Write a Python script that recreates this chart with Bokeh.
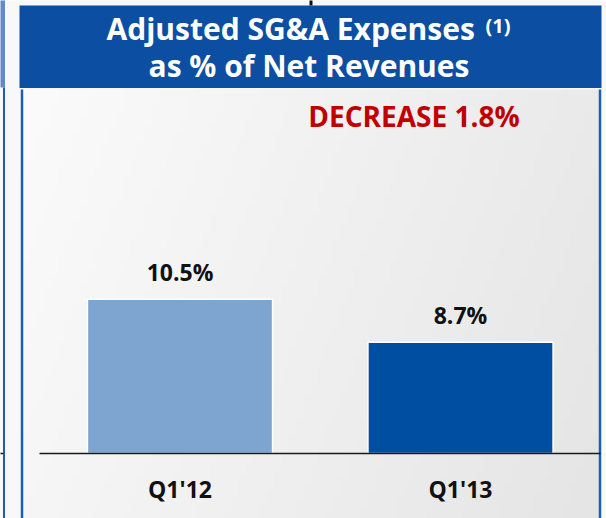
import numpy as np
from bokeh.plotting import figure
from bokeh.models import Range1d
from bokeh.core.properties import value
from bokeh.embed import file_html
from bokeh.resources import INLINE

# ---------------- data ----------------
categories = ["Q1'12", "Q1'13"]
values = [10.5, 8.7]
value_labels = ["10.5%", "8.7%"]
bar_colors = ["#7EA5D0", "#004EA2"]
title_line1 = "Adjusted SG&A Expenses"
title_sup = "(1)"
title_line2 = "as % of Net Revenues"
callout = "DECREASE 1.8%"

# ---------------- layout / scale setup ----------------
W, H = 606, 518          # figure size (figure sits at page origin)
OFF = 0
X0_PAGE, X_PX = 179.5, 280.5      # page x of first category, px per category
BASE_VAL, BASE_PAGE, Y_PX = 4.05, 453.0, 23.9   # value at baseline, page y of baseline, px per unit
LIFT = 0.4   # baseline correction (fraction of font size)

def dx(page_x):
    return (page_x - X0_PAGE) / X_PX

def dy(page_y):
    return BASE_VAL + (BASE_PAGE - page_y) / Y_PX

def ty(page_y, size):
    return dy(page_y - LIFT * size)

FONT = value("Open Sans")
BAND = "#0B4EA2"
EDGE = "#1F5DB5"

p = figure(width=W, height=H, output_backend="svg", toolbar_location=None,
           x_range=Range1d(dx(OFF), dx(OFF + W)), y_range=Range1d(dy(OFF + H), dy(OFF)),
           x_axis_type=None, y_axis_type=None, min_border=0,
           background_fill_color="#f8f8f8", border_fill_color="#f8f8f8", outline_line_color=None)
p.grid.visible = False

# panel gradient background
nx, ny = 80, 60
gx = np.linspace(0, 1, nx)[None, :]
gy = np.linspace(0, 1, ny)[:, None]   # 0 = bottom row
g = (251 - 17 * gx - 5 * (1 - gy)).clip(0, 255).astype(np.uint8)
img = np.empty((ny, nx), dtype=np.uint32)
v = img.view(dtype=np.uint8).reshape((ny, nx, 4))
v[:, :, 0] = g
v[:, :, 1] = g
v[:, :, 2] = g
v[:, :, 3] = 255
p.image_rgba(image=[img], x=dx(22), y=dy(520), dw=dx(599) - dx(22), dh=dy(89) - dy(520))

# neighbouring panel remnants at the left edge
p.quad(left=dx(-1), right=dx(4.5), top=dy(-1), bottom=dy(87), fill_color="#5E8CC8", line_color=None)
p.segment(x0=[dx(3.5)], y0=[dy(87)], x1=[dx(3.5)], y1=[dy(520)], line_color=EDGE, line_width=2)
p.segment(x0=[dx(-1)], y0=[BASE_VAL], x1=[dx(3)], y1=[BASE_VAL], line_color="#1a1a1a", line_width=1.5)
p.segment(x0=[dx(310.5)], y0=[dy(-1)], x1=[dx(310.5)], y1=[dy(5)], line_color="#111111", line_width=3)

# panel borders (left / right)
p.segment(x0=[dx(21.5), dx(599.5)], y0=[dy(89), dy(89)], x1=[dx(21.5), dx(599.5)], y1=[dy(520), dy(520)],
          line_color=EDGE, line_width=2.5)

# title band
p.quad(left=dx(19), right=dx(601), top=dy(5), bottom=dy(87.5), fill_color=BAND, line_color=None)
p.text(x=[dx(106)], y=[ty(39.5, 30)], text=[title_line1], text_color="white", text_font=FONT,
       text_font_style="bold", text_font_size="30px", text_align="left", text_baseline="alphabetic")
p.text(x=[dx(485)], y=[ty(33, 20)], text=[title_sup], text_color="white", text_font=FONT,
       text_font_style="bold", text_font_size="20px", text_align="left", text_baseline="alphabetic")
p.text(x=[dx(308.5)], y=[ty(77, 30)], text=[title_line2], text_color="white", text_font=FONT,
       text_font_style="bold", text_font_size="30px", text_align="center", text_baseline="alphabetic")

# callout
p.text(x=[dx(413.5)], y=[ty(127, 28)], text=[callout], text_color="#C00000", text_font=FONT,
       text_font_style="bold", text_font_size="28px", text_align="center", text_baseline="alphabetic")

# bars
idx = list(range(len(categories)))
p.vbar(x=idx, top=values, bottom=BASE_VAL, width=0.66, fill_color=bar_colors,
       line_color="white", line_width=1.5)

# baseline
p.segment(x0=[dx(39)], y0=[BASE_VAL], x1=[dx(600)], y1=[BASE_VAL], line_color="#1a1a1a", line_width=1.5)

# value labels
p.text(x=idx, y=values, text=value_labels, y_offset=-18 - LIFT * 23, text_color="#111111", text_font=FONT,
       text_font_style="bold", text_font_size="23px", text_align="center", text_baseline="alphabetic")

# category labels
p.text(x=idx, y=[BASE_VAL] * len(idx), text=categories, y_offset=45 - LIFT * 23, text_color="#111111",
       text_font=FONT, text_font_style="bold", text_font_size="23px", text_align="center",
       text_baseline="alphabetic")

open("out.html", "w").write(file_html(p, INLINE))
